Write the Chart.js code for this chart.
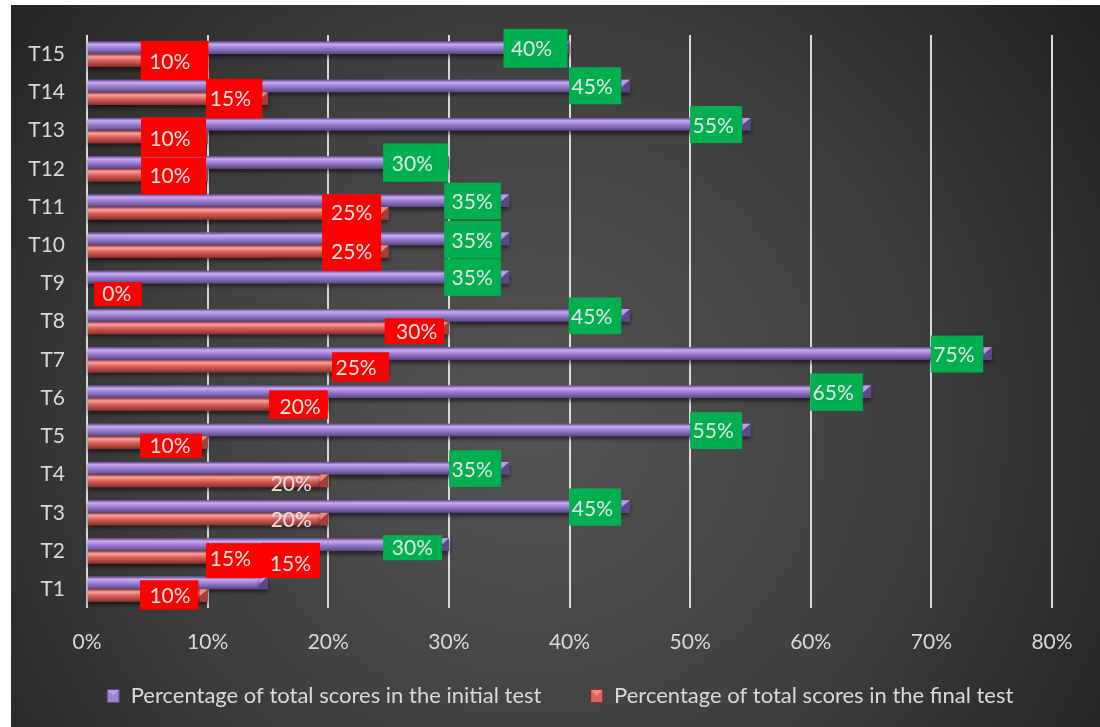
<!DOCTYPE html>
<html>
<head>
<meta charset="utf-8">
<script src="https://cdn.jsdelivr.net/npm/chart.js@4.4.1/dist/chart.umd.min.js"></script>
<style>
  html, body { margin: 0; padding: 0; background: #fff; }
  #wrap { width: 1100px; height: 727px; position: relative; }
</style>
</head>
<body>
<div id="wrap"><canvas id="myChart"></canvas></div>
<script>
// ---- data ----
const categories = ["T1", "T2", "T3", "T4", "T5", "T6", "T7", "T8", "T9", "T10", "T11", "T12", "T13", "T14", "T15"];
const initialScores = [15, 30, 45, 35, 55, 65, 75, 45, 35, 35, 35, 30, 55, 45, 40];
const finalScores = [10, 15, 20, 20, 10, 20, 25, 30, 0, 25, 25, 10, 10, 15, 10];
const xTickValues = [0, 10, 20, 30, 40, 50, 60, 70, 80];
const seriesNames = ["Percentage of total scores in the initial test", "Percentage of total scores in the final test"];

// ---- label boxes (style only): [dx from bar end, dy from bar centre, w, h, text cx, text cy, fill] ----
const initialLabelBoxes = [
    [-6, -40, 58, 35, 28.5, 21.3, "r"],
    [-65.8, -9.5, 59, 25, 29.3, 12.7, "g"],
    [-60.7, -18, 52, 37.3, 23.3, 20.3, "g"],
    [-60, -18, 52, 36.7, 23, 20, "g"],
    [-60.3, -17.8, 52, 36.7, 23, 19.5, "g"],
    [-60.9, -18.3, 52.6, 37.4, 23, 20, "g"],
    [-60.8, -18, 52.3, 37, 23, 19.8, "g"],
    [-61.1, -17.9, 52.6, 36.7, 23, 19.6, "g"],
    [-65, -18, 56.7, 36.7, 28, 19.6, "g"],
    [-65, -18, 56.7, 37.6, 28, 20, "g"],
    [-65, -18, 56.7, 36.7, 28, 19.6, "g"],
    [-65.8, -19, 65, 38.3, 29.3, 20.5, "g"],
    [-60.3, -18.2, 52, 37, 23, 19.8, "g"],
    [-60.7, -18.7, 52, 37, 23, 19.8, "g"],
    [-66, -18.8, 64, 38.7, 28, 20.5, "g"]
];
const finalLabelBoxes = [
    [-67.6, -15.2, 58.3, 29.3, 30, 16, "r"],
    [-62, -14.1, 56, 35, 24.5, 16.3, "r"],
    [-66, -14, 58, 28, 29, 15.4, null],
    [-66, -14, 58, 28, 29, 16.9, null],
    [-67.6, -9, 62, 24.4, 30, 12.7, "r"],
    [-59.2, -14.1, 58.7, 28.7, 31, 16.7, "r"],
    [-56.5, -13.9, 57, 29.3, 24, 16.3, "r"],
    [-64.2, -9.7, 59.3, 25.7, 32, 13.7, "r"],
    [7, -7.5, 47.8, 23.7, 22.8, 12.3, "r"],
    [-66.5, -19.6, 59, 39, 29.6, 20, "r"],
    [-66.5, -19.1, 59, 37.7, 29.6, 19.3, "r"],
    [-66.6, -17.6, 65, 37, 29, 18.7, "r"],
    [-66.6, -19.7, 65, 39.7, 29, 22.3, "r"],
    [-62, -19.8, 56.5, 39.6, 24.5, 20.6, "r"],
    [-66.9, -19.6, 67.7, 39.3, 29, 21.3, "r"]
];
const boxFill = { g: "#00b050", r: "#ff0000" };

const shades = [
    { edge: "#5b4884", light: "#cbaaf4", mid: "#9f80d6", dark: "#5a4681", cap: "#5c4888", capLight: "#b99ee8" },
    { edge: "#9a3b37", light: "#ffa39e", mid: "#dc625d", dark: "#8a2f2c", cap: "#a33e3a", capLight: "#f08a84" }
];

Chart.defaults.font.family = "Lato";

// legend markers: transparent lead-in, then a small 3d square at the right end
const MARK_W = 33;
const makeMarker = (s) => {
    const cv = document.createElement("canvas");
    cv.width = MARK_W; cv.height = 14;
    const c = cv.getContext("2d");
    const x0 = MARK_W - 13;
    c.fillStyle = s.dark; c.fillRect(x0, 0, 13, 14);
    c.fillStyle = s.mid; c.fillRect(x0 + 1, 1, 11, 12);
    c.fillStyle = s.capLight;
    c.beginPath(); c.moveTo(x0 + 1, 1); c.lineTo(x0 + 12, 1); c.lineTo(x0 + 6.5, 7); c.closePath(); c.fill();
    return cv;
};
const markers = shades.map(makeMarker);

const background = {
    id: "background",
    beforeDraw(chart) {
        const c = chart.ctx;
        c.save();
        c.fillStyle = "#ffffff";
        c.fillRect(0, 0, chart.width, chart.height);
        const g = c.createRadialGradient(530, 420, 0, 530, 420, 720);
        g.addColorStop(0, "#545454");
        g.addColorStop(0.5, "#404040");
        g.addColorStop(1, "#1f1f1f");
        c.fillStyle = g;
        c.fillRect(11, 5, chart.width - 11, chart.height - 5);
        c.restore();
    }
};

const barLook = {
    id: "barLook",
    afterDatasetsDraw(chart) {
        const c = chart.ctx;
        chart.data.datasets.forEach((ds, di) => {
            const sh = shades[di];
            chart.getDatasetMeta(di).data.forEach(bar => {
                const { x, y, base, height } = bar.getProps(["x", "y", "base", "height"], true);
                if (x - base < 1) return;
                const top = y - height / 2;
                const d = Math.min(8, x - base);
                c.save();
                c.shadowColor = "rgba(0,0,0,0.55)";
                c.shadowOffsetY = 3;
                c.shadowBlur = 4;
                const g = c.createLinearGradient(0, top, 0, top + height);
                g.addColorStop(0, sh.edge);
                g.addColorStop(0.22, sh.light);
                g.addColorStop(0.5, sh.mid);
                g.addColorStop(1, sh.dark);
                c.fillStyle = g;
                c.fillRect(base, top, x - d - base, height);
                c.fillStyle = sh.cap;
                c.fillRect(x - d, top, d, height);
                c.restore();
                c.fillStyle = sh.capLight;
                c.beginPath();
                c.moveTo(x - d, top);
                c.lineTo(x, top);
                c.lineTo(x - d, top + height * 0.55);
                c.closePath();
                c.fill();
            });
        });
    }
};

const dataLabels = {
    id: "dataLabels",
    afterDatasetsDraw(chart) {
        const c = chart.ctx;
        const xs = chart.scales.x;
        [initialLabelBoxes, finalLabelBoxes].forEach((boxes, di) => {
            const values = chart.data.datasets[di].data;
            chart.getDatasetMeta(di).data.forEach((bar, i) => {
                const b = boxes[i];
                if (!b) return;
                const v = xs.getPixelForValue(values[i]);
                const left = v + b[0];
                const top = bar.y + b[1];
                if (b[6]) {
                    c.fillStyle = boxFill[b[6]];
                    c.fillRect(left, top, b[2], b[3]);
                }
                c.fillStyle = "#e6e6e6";
                c.font = "21px Lato";
                c.textAlign = "center";
                c.textBaseline = "middle";
                c.fillText(values[i] + "%", left + b[4], top + b[5]);
            });
        });
    }
};

const ctx = document.getElementById("myChart").getContext("2d");
const myChart = new Chart(ctx, {
    type: "bar",
    data: {
        labels: categories,
        datasets: [{
            label: seriesNames[0],
            data: initialScores,
            backgroundColor: shades[0].mid,
            categoryPercentage: 0.66,
            barPercentage: 1
        }, {
            label: seriesNames[1],
            data: finalScores,
            backgroundColor: shades[1].mid,
            categoryPercentage: 0.66,
            barPercentage: 1
        }]
    },
    options: {
        indexAxis: "y",
        responsive: true,
        maintainAspectRatio: false,
        animation: false,
        layout: { padding: { left: 0, right: 0, top: 35, bottom: 10 } },
        scales: {
            x: {
                min: 0,
                max: 80,
                afterBuildTicks: (scale) => { scale.ticks = xTickValues.map(v => ({ value: v })); },
                afterFit: (scale) => { scale.height = 48; scale.paddingRight = 48; },
                ticks: {
                    callback: (v) => v + "%",
                    color: "#d9d9d9",
                    font: { size: 21 },
                    padding: 21,
                    maxRotation: 0
                },
                grid: { color: "#d9d9d9", lineWidth: 2, drawTicks: false },
                border: { display: false }
            },
            y: {
                reverse: true,
                afterFit: (scale) => { scale.width = 87; },
                ticks: { color: "#d9d9d9", font: { size: 21 }, padding: 22 },
                grid: { display: false, drawTicks: false },
                border: { display: false }
            }
        },
        plugins: {
            tooltip: { enabled: false },
            legend: {
                position: "bottom",
                labels: {
                    usePointStyle: true,
                    pointStyleWidth: MARK_W,
                    boxHeight: 14,
                    padding: 28.7,
                    color: "#d9d9d9",
                    font: { size: 22 },
                    generateLabels: (chart) => chart.data.datasets.map((ds, i) => ({
                        text: ds.label,
                        pointStyle: markers[i],
                        fillStyle: ds.backgroundColor,
                        strokeStyle: "transparent",
                        lineWidth: 0,
                        fontColor: "#d9d9d9",
                        hidden: false,
                        datasetIndex: i
                    }))
                }
            }
        }
    },
    plugins: [background, barLook, dataLabels]
});
</script>
</body>
</html>
